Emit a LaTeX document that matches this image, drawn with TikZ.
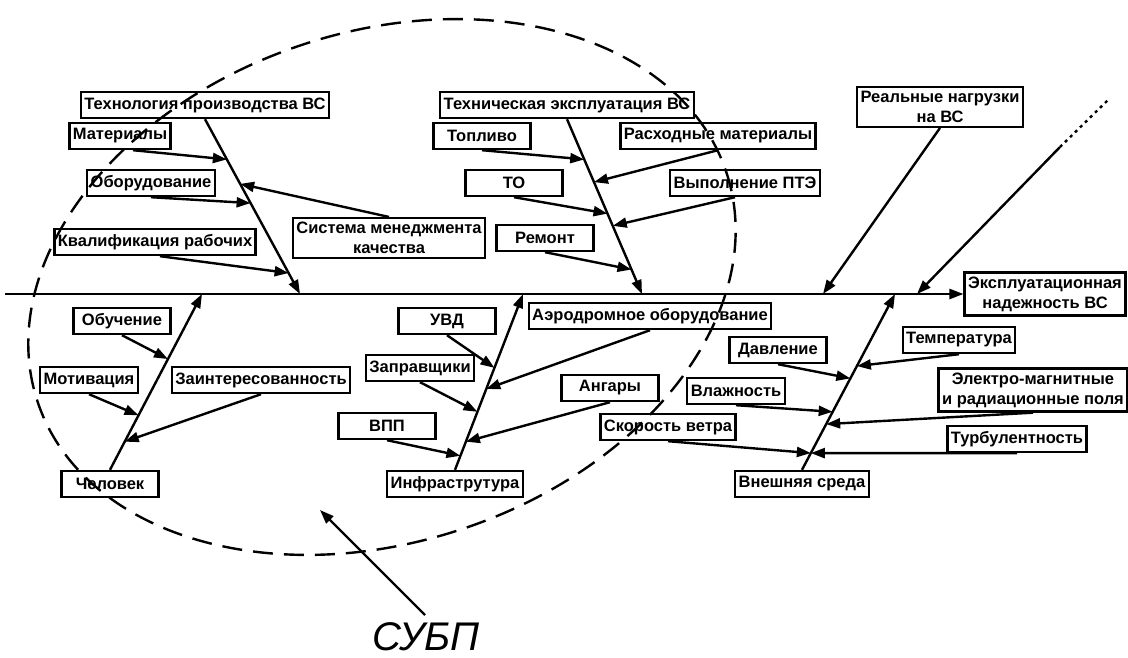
\documentclass[tikz,border=0pt]{standalone}
\usepackage{fontspec}
\setmainfont{Liberation Sans}
\usetikzlibrary{arrows.meta,calc}
\tikzset{
  box/.style={draw, line width=2.4pt, font=\fontsize{16.5}{20}\selectfont\bfseries,
    minimum height=26pt, minimum width=97pt, inner xsep=3.5pt, inner ysep=4pt, align=center},
  arr/.style={line width=2.4pt, -{Triangle[length=14pt,width=10pt]}},
  bone/.style={line width=2.4pt},
  zone/.style={line width=2.4pt, dash pattern=on 20pt off 11pt},
}
\begin{document}
\begin{tikzpicture}[x=1pt,y=-1pt]
    \useasboundingbox (0,0) rectangle (1128,657);
    \node[box] (tech) at (205,105) {Технология производства ВС};
    \node[box] (mat) at (120,136) {Материалы};
    \node[box] (obor) at (151,183) {Оборудование};
    \node[box] (kval) at (155,242) {Квалификация рабочих};
    \node[box] (smk) at (389,238) {Система менеджмента\\качества};
    \node[box] (expl) at (567,105) {Техническая эксплуатация ВС};
    \node[box] (topl) at (482,136) {Топливо};
    \node[box] (rash) at (718,136) {Расходные материалы};
    \node[box] (tob) at (514,183) {ТО};
    \node[box] (ptje) at (745,183) {Выполнение ПТЭ};
    \node[box] (rem) at (545,238) {Ремонт};
    \node[box] (real) at (940,107) {Реальные нагрузки\\на ВС};
    \node[box] (eff) at (1045,294) {Эксплуатационная\\надежность ВС};
    \node[box] (obuch) at (122,321) {Обучение};
    \node[box] (motiv) at (89,380) {Мотивация};
    \node[box] (zaint) at (261,380) {Заинтересованность};
    \node[box] (chel) at (110,484) {Человек};
    \node[box] (uvd) at (447,321) {УВД};
    \node[box] (zapr) at (420,368) {Заправщики};
    \node[box] (vpp) at (387,426) {ВПП};
    \node[box] (infra) at (455,484) {Инфраструтура};
    \node[box] (aero) at (650,316) {Аэродромное оборудование};
    \node[box] (angar) at (610,388) {Ангары};
    \node[box] (veter) at (668,427) {Скорость ветра};
    \node[box] (davl) at (778,350) {Давление};
    \node[box] (temp) at (959,340) {Температура};
    \node[box] (vlazh) at (736,391) {Влажность};
    \node[box] (emp) at (1033,390) {Электро-магнитные\\и радиационные поля};
    \node[box] (turb) at (1017,439) {Турбулентность};
    \node[box] (vnesh) at (802,484) {Внешняя среда};
    \node[font=\fontsize{40}{40}\selectfont\itshape, anchor=base, inner sep=0pt] (subp) at (426,650) {СУБП};
    \coordinate (start) at (5,294);
    \coordinate (m1) at (300,294);
    \coordinate (m2) at (642,294);
    \coordinate (m3) at (202,294);
    \coordinate (m4) at (523,294);
    \coordinate (m5) at (895,294);
    \coordinate (m6) at (823,294);
    \coordinate (m7) at (917,294);
    \coordinate (d1) at (1108,100);
    \coordinate (d2) at (1060,147);
    \coordinate (zc) at (382,287);
    \coordinate (zp) at (320,510);
    \coordinate (ztail) at (425,615);
    \draw[arr] (start) -- (eff);
    \draw[arr] (tech.south) -- (m1);
    \draw[arr] (expl.south) -- (m2);
    \draw[arr] (chel.north) -- (m3);
    \draw[arr] (infra.north) -- (m4);
    \draw[arr] (vnesh.north) -- (m5);
    \draw[arr] (real.south) -- (m6);
    \draw[arr] (d2) -- (m7);
    \draw[bone, dash pattern=on 3pt off 4pt] (d2) -- (d1);
    \draw[arr] ([xshift=13pt]mat.south) -- ($(tech.south)!0.23!(m1)$);
    \draw[arr] (obor.south) -- ($(tech.south)!0.48!(m1)$);
    \draw[arr] ([xshift=5pt]kval.south) -- ($(tech.south)!0.88!(m1)$);
    \draw[arr] (smk.north) -- ($(tech.south)!0.37!(m1)$);
    \draw[arr] (topl.south) -- ($(expl.south)!0.23!(m2)$);
    \draw[arr] (rash.south) -- ($(expl.south)!0.36!(m2)$);
    \draw[arr] (tob.south) -- ($(expl.south)!0.54!(m2)$);
    \draw[arr] ([xshift=-10pt]ptje.south) -- ($(expl.south)!0.61!(m2)$);
    \draw[arr] (rem.south) -- ($(expl.south)!0.86!(m2)$);
    \draw[arr] (obuch.south) -- ($(chel.north)!0.63!(m3)$);
    \draw[arr] (motiv.south) -- ($(chel.north)!0.31!(m3)$);
    \draw[arr] (zaint.south) -- ($(chel.north)!0.16!(m3)$);
    \draw[arr] (uvd.south) -- ($(infra.north)!0.58!(m4)$);
    \draw[arr] (zapr.south) -- ($(infra.north)!0.33!(m4)$);
    \draw[arr] (vpp.south) -- ($(infra.north)!0.08!(m4)$);
    \draw[arr] (aero.south) -- ($(infra.north)!0.46!(m4)$);
    \draw[arr] (angar.south) -- ($(infra.north)!0.16!(m4)$);
    \draw[arr] (davl.south) -- ($(vnesh.north)!0.52!(m5)$);
    \draw[arr] (temp.south) -- ($(vnesh.north)!0.59!(m5)$);
    \draw[arr] (vlazh.south) -- ($(vnesh.north)!0.33!(m5)$);
    \draw[arr] (emp.south) -- ($(vnesh.north)!0.26!(m5)$);
    \draw[arr] (veter.south) -- ($(vnesh.north)!0.095!(m5)$);
    \draw[arr] (turb.south) -- ($(vnesh.north)!0.095!(m5)$);
    \draw[zone, rotate around={18.5:(zc)}] (zc) ellipse (363 and 255);
    \draw[arr] (ztail) -- (zp);
\end{tikzpicture}
\end{document}
